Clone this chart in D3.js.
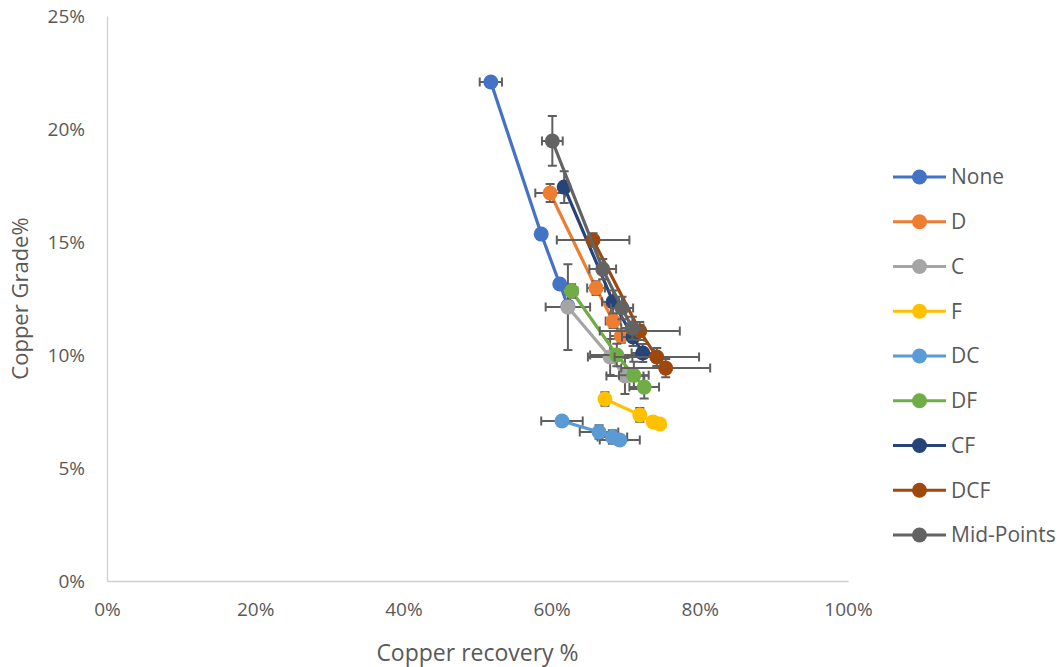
<!DOCTYPE html>
<html>
<head>
<meta charset="utf-8">
<script src="https://cdn.jsdelivr.net/npm/d3@7"></script>
<style>
  body { margin: 0; background: #fff; }
  text { font-family: "Open Sans", "Noto Sans", sans-serif; fill: #595959; }
</style>
</head>
<body>
<div id="chart"></div>
<script>
"use strict";

// series names and colours
var names = ["None", "D", "C", "F", "DC", "DF", "CF", "DCF", "Mid-Points"];
var colors = ["#4472C4", "#ED7D31", "#A5A5A5", "#FFC000", "#5B9BD5", "#70AD47", "#264478", "#9E480E", "#636363"];

// recovery % (x) and grade % (y) for each series
var recovery = [
  [51.8, 58.6, 61.1, 62.2],
  [59.8, 66.0, 68.3, 69.4],
  [62.2, 67.9, 69.9],
  [67.2, 71.9, 73.7, 74.6],
  [61.4, 66.4, 68.2, 69.2],
  [62.7, 68.8, 71.1, 72.5],
  [61.7, 68.3, 71.0, 72.3],
  [65.6, 71.9, 74.2, 75.4],
  [60.1, 66.9, 69.5, 70.9]
];
var grade = [
  [22.08, 15.35, 13.14, 12.17],
  [17.17, 12.96, 11.5, 10.84],
  [12.12, 9.91, 9.07],
  [8.05, 7.35, 7.04, 6.95],
  [7.08, 6.59, 6.37, 6.24],
  [12.83, 10.0, 9.1, 8.58],
  [17.43, 12.35, 10.8, 10.09],
  [15.09, 11.06, 9.91, 9.42],
  [19.47, 13.8, 12.08, 11.19]
];
// error bar half widths (percentage points)
var recoveryErr = [
  [1.5, 0, 0, 0],
  [2.0, 1.2, 1.0, 1.5],
  [3.0, 3.0, 2.5],
  [0.5, 0.5, 0.5, 0.5],
  [2.8, 2.6, 2.0, 2.7],
  [0.8, 3.6, 2.0, 2.0],
  [0.5, 1.5, 1.5, 1.5],
  [4.9, 5.4, 5.7, 6.0],
  [1.4, 1.8, 1.5, 1.5]
];
var gradeErr = [
  [0, 0, 0, 0],
  [0.4, 0.3, 0.3, 0.3],
  [1.9, 0.8, 0.8],
  [0.3, 0.3, 0.2, 0.2],
  [0.2, 0.3, 0.3, 0.2],
  [0.3, 0.5, 0.6, 0.5],
  [0.7, 0.5, 0.4, 0.4],
  [0.3, 0.4, 0.4, 0.4],
  [1.1, 0.45, 0.5, 0.5]
];
var xTicks = [0, 20, 40, 60, 80, 100];
var yTicks = [0, 5, 10, 15, 20, 25];

var width = 1062, height = 667;
var margin = { top: 16, right: 214, bottom: 86, left: 107 };
var w = width - margin.left - margin.right,
  h = height - margin.top - margin.bottom;

var x = d3.scaleLinear().domain([0, 100]).range([0, w]);
var y = d3.scaleLinear().domain([0, 25]).range([h, 0]);

var svg = d3.select("#chart").append("svg")
  .attr("width", width)
  .attr("height", height);

var g = svg.append("g")
  .attr("transform", "translate(" + margin.left + "," + margin.top + ")");

// axes
var xAxis = g.append("g")
  .attr("transform", "translate(0," + h + ")")
  .call(d3.axisBottom(x).tickValues(xTicks).tickSize(0).tickPadding(22)
    .tickFormat(function(d) { return d + "%"; }));
var yAxis = g.append("g")
  .call(d3.axisLeft(y).tickValues(yTicks).tickSize(0).tickPadding(22)
    .tickFormat(function(d) { return d + "%"; }));
[xAxis, yAxis].forEach(function(a) {
  a.select(".domain").attr("stroke", "#D0D0D0").attr("stroke-width", 1.3);
  a.selectAll("text").attr("font-size", 19).style("fill", "#595959");
});

svg.append("text")
  .attr("x", margin.left + w / 2)
  .attr("y", 661)
  .attr("text-anchor", "middle")
  .attr("font-size", 23)
  .text("Copper recovery %");
svg.append("text")
  .attr("transform", "translate(28," + (margin.top + h / 2) + ") rotate(-90)")
  .attr("text-anchor", "middle")
  .attr("font-size", 22)
  .text("Copper Grade%");

var line = d3.line()
  .x(function(d) { return x(d.x); })
  .y(function(d) { return y(d.y); });

var cap = 4.5;
names.forEach(function(name, i) {
  var pts = recovery[i].map(function(r, j) {
    return { x: r, y: grade[i][j], ex: recoveryErr[i][j], ey: gradeErr[i][j] };
  });
  var sg = g.append("g");
  sg.append("path")
    .datum(pts)
    .attr("d", line)
    .attr("fill", "none")
    .attr("stroke", colors[i])
    .attr("stroke-width", 3.2);

  var eb = sg.append("g").attr("stroke", "#5f5f5f").attr("stroke-width", 2).attr("fill", "none");
  pts.forEach(function(p) {
    if (p.ex > 0) {
      var x1 = x(p.x - p.ex), x2 = x(p.x + p.ex), yy = y(p.y);
      eb.append("path").attr("d",
        "M" + x1 + "," + yy + "H" + x2 +
        "M" + x1 + "," + (yy - cap) + "V" + (yy + cap) +
        "M" + x2 + "," + (yy - cap) + "V" + (yy + cap));
    }
    if (p.ey > 0) {
      var y1 = y(p.y - p.ey), y2 = y(p.y + p.ey), xx = x(p.x);
      eb.append("path").attr("d",
        "M" + xx + "," + y1 + "V" + y2 +
        "M" + (xx - cap) + "," + y1 + "H" + (xx + cap) +
        "M" + (xx - cap) + "," + y2 + "H" + (xx + cap));
    }
  });

  sg.selectAll("circle")
    .data(pts)
    .enter()
    .append("circle")
    .attr("cx", function(d) { return x(d.x); })
    .attr("cy", function(d) { return y(d.y); })
    .attr("r", 7.5)
    .attr("fill", colors[i]);
});

// legend
var legend = svg.append("g").attr("transform", "translate(893,177)");
names.forEach(function(name, i) {
  var row = legend.append("g").attr("transform", "translate(0," + (i * 44.75) + ")");
  row.append("line")
    .attr("x1", 0).attr("x2", 53)
    .attr("stroke", colors[i])
    .attr("stroke-width", 3.2);
  row.append("circle")
    .attr("cx", 26.5).attr("r", 7.5)
    .attr("fill", colors[i]);
  row.append("text")
    .attr("x", 58)
    .attr("dy", "0.35em")
    .attr("font-size", 21)
    .text(name);
});
</script>
</body>
</html>
